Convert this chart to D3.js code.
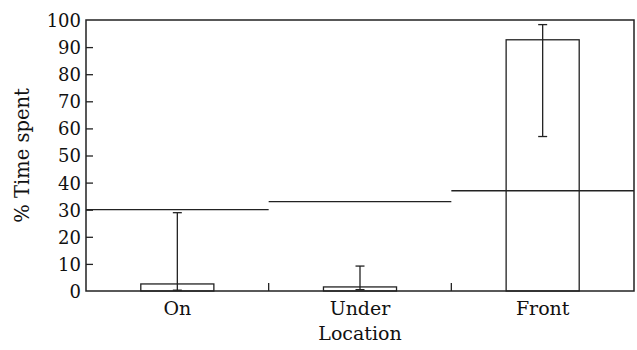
<!DOCTYPE html>
<html>
<head>
<meta charset="utf-8">
<script src="https://cdn.jsdelivr.net/npm/d3@7"></script>
<style>
  body { margin: 0; background: #fff; }
  svg text { font-family: "DejaVu Serif", serif; fill: #111; }
</style>
</head>
<body>
<div id="chart"></div>
<script>
// data
var locations = ["On", "Under", "Front"];
var meanValues = [2.6, 1.5, 92.7];
var errLow = [0.3, 0.5, 57];
var errHigh = [28.9, 9.2, 98.3];
var chanceLevel = [30, 33, 37];
var yTicks = [0, 10, 20, 30, 40, 50, 60, 70, 80, 90, 100];

var W = 637, H = 350;
var margin = { top: 20, right: 3, bottom: 59, left: 86 };
var width = W - margin.left - margin.right;
var height = H - margin.top - margin.bottom;
var ink = "#222";

var svg = d3.select("#chart").append("svg")
  .attr("width", W).attr("height", H);
var g = svg.append("g")
  .attr("transform", `translate(${margin.left},${margin.top})`);

var x = d3.scaleBand().domain(locations).range([0, width]);
var y = d3.scaleLinear().domain([0, 100]).range([height, 0]);

// chance level lines, one per band
g.selectAll(".chance").data(locations).enter().append("line")
  .attr("x1", d => x(d))
  .attr("x2", d => x(d) + x.bandwidth())
  .attr("y1", (d, i) => y(chanceLevel[i]))
  .attr("y2", (d, i) => y(chanceLevel[i]))
  .attr("stroke", ink).attr("stroke-width", 1.3);

// bars
var barW = x.bandwidth() * 0.4;
g.selectAll(".bar").data(locations).enter().append("rect")
  .attr("class", "bar")
  .attr("x", d => x(d) + (x.bandwidth() - barW) / 2)
  .attr("y", (d, i) => y(meanValues[i]))
  .attr("width", barW)
  .attr("height", (d, i) => height - y(meanValues[i]))
  .attr("fill", "none").attr("stroke", ink).attr("stroke-width", 1.3);

// error bars
var cap = 4.5;
locations.forEach(function (d, i) {
  var cx = x(d) + x.bandwidth() / 2;
  g.append("line").attr("x1", cx).attr("x2", cx)
    .attr("y1", y(errLow[i])).attr("y2", y(errHigh[i]))
    .attr("stroke", ink).attr("stroke-width", 1.3);
  [errLow[i], errHigh[i]].forEach(function (v) {
    g.append("line").attr("x1", cx - cap).attr("x2", cx + cap)
      .attr("y1", y(v)).attr("y2", y(v))
      .attr("stroke", ink).attr("stroke-width", 1.3);
  });
});

// frame
g.append("rect").attr("x", 0).attr("y", 0)
  .attr("width", width).attr("height", height)
  .attr("fill", "none").attr("stroke", ink).attr("stroke-width", 1.5);

// y axis
var yAxis = g.append("g")
  .call(d3.axisLeft(y).tickValues(yTicks).tickSize(-7));
yAxis.select(".domain").remove();
yAxis.selectAll("line").attr("stroke", ink).attr("stroke-width", 1.3)
  .filter(d => d === 0 || d === 100).remove();
yAxis.selectAll("text").style("font-size", "18px").style("font-family", "DejaVu Serif, serif")
  .attr("fill", "#111").attr("x", -5).attr("dy", "0.36em");

// x axis: ticks at band boundaries pointing up
var xAxis = g.append("g").attr("transform", `translate(0,${height})`)
  .call(d3.axisBottom(x).tickSize(0).tickPadding(0));
xAxis.select(".domain").remove();
xAxis.selectAll("text").style("font-size", "19px").style("font-family", "DejaVu Serif, serif")
  .attr("fill", "#111").attr("dy", null).attr("y", 24);
g.selectAll(".bandTick").data(locations.slice(1)).enter().append("line")
  .attr("x1", d => x(d)).attr("x2", d => x(d))
  .attr("y1", height).attr("y2", height - 8)
  .attr("stroke", ink).attr("stroke-width", 1.3);

// axis titles
svg.append("text")
  .attr("transform", `translate(29,${margin.top + height / 2}) rotate(-90)`)
  .attr("text-anchor", "middle")
  .style("font-size", "19.5px")
  .text("% Time spent");

svg.append("text")
  .attr("x", margin.left + width / 2)
  .attr("y", 340)
  .attr("text-anchor", "middle")
  .style("font-size", "19px")
  .text("Location");
</script>
</body>
</html>
